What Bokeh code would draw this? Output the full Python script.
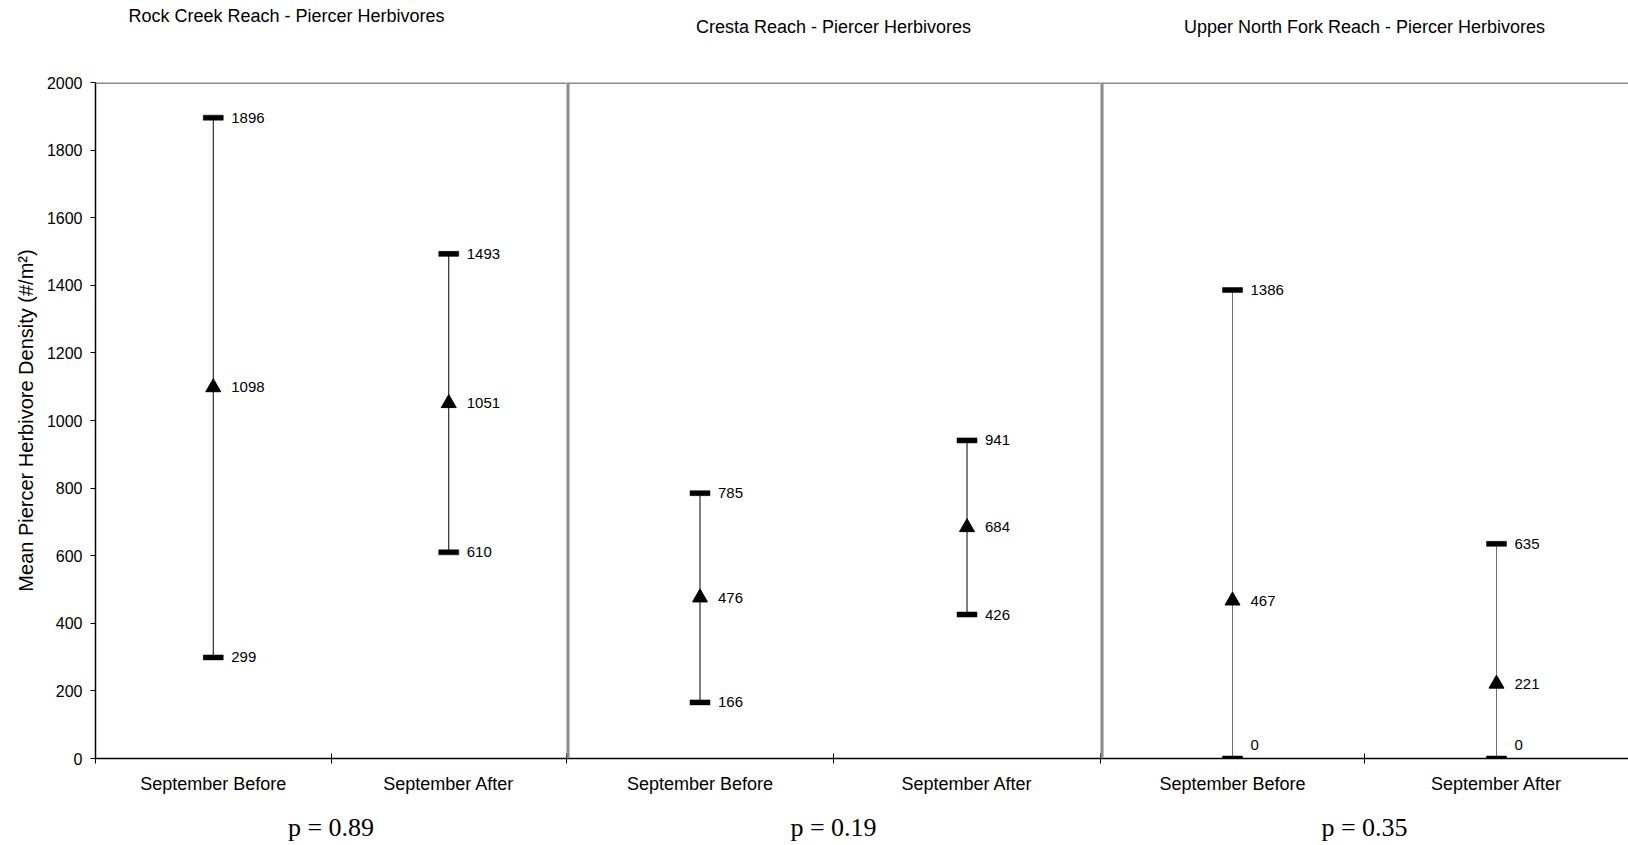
from bokeh.plotting import figure
from bokeh.layouts import row
from bokeh.models import Range1d, FixedTicker, Span, ColumnDataSource, Title
from bokeh.core.properties import value
from bokeh.embed import file_html
from bokeh.resources import INLINE

# ---------------- data ----------------
categories = ["September Before", "September After"]
reach_titles = [
    "Rock Creek Reach - Piercer Herbivores",
    "Cresta Reach - Piercer Herbivores",
    "Upper North Fork Reach - Piercer Herbivores",
]
p_values = ["p = 0.89", "p = 0.19", "p = 0.35"]

rock_upper = [1896, 1493]
rock_mean = [1098, 1051]
rock_lower = [299, 610]

cresta_upper = [785, 941]
cresta_mean = [476, 684]
cresta_lower = [166, 426]

unf_upper = [1386, 635]
unf_mean = [467, 221]
unf_lower = [0, 0]

y_ticks = [0, 200, 400, 600, 800, 1000, 1200, 1400, 1600, 1800, 2000]
y_label = "Mean Piercer Herbivore Density (#/m\u00b2)"

# ---------------- style ----------------
SANS = "Liberation Sans"
SERIF = "Liberation Serif"
FIG_H = 845
widths = [566, 534, 528]
left_borders = [95, 0, 0]
title_gap = [54, 43, 43]
bar_colors = ["black", "black", "#707070"]
DIVIDER = "#8a8a8a"


def make_panel(i, upper, mean, lower):
    show_y = i == 0
    n = len(categories)
    p = figure(
        width=widths[i], height=FIG_H,
        x_range=Range1d(0, n), y_range=Range1d(0, 2000),
        output_backend="svg", toolbar_location=None,
        y_axis_location="left" if show_y else None,
        min_border_left=left_borders[i], min_border_right=0,
        min_border_top=82, min_border_bottom=87,
    )
    p.outline_line_color = None
    p.xgrid.visible = False
    p.ygrid.visible = False
    p.background_fill_color = "white"
    p.border_fill_color = "white"
    p.title.text = ""

    # spacer between frame and title, then the title itself
    p.add_layout(Title(text=" ", text_font_size="1px", standoff=title_gap[i]), "above")
    t = Title(text=reach_titles[i], text_font=SANS, text_font_size="18px",
              text_font_style="normal", text_color="black", standoff=0)
    if i == 0:
        t.align = "left"
        t.offset = 33
    else:
        t.align = "center"
    p.add_layout(t, "above")

    # x axis
    pos = [k + 0.5 for k in range(n)]
    xa = p.xaxis[0]
    xa.ticker = FixedTicker(ticks=pos, minor_ticks=list(range(n + 1)))
    xa.major_label_overrides = {pk: c for pk, c in zip(pos, categories)}
    xa.major_tick_in = 0
    xa.major_tick_out = 0
    xa.minor_tick_in = 5
    xa.minor_tick_out = 5
    xa.minor_tick_line_color = "black"
    xa.axis_line_color = "black"
    xa.axis_line_width = 1.5
    xa.major_label_text_font = SANS
    xa.major_label_text_font_size = "18px"
    xa.major_label_text_color = "black"
    xa.major_label_standoff = 10
    xa.axis_label = p_values[i]
    xa.axis_label_text_font = SERIF
    xa.axis_label_text_font_size = "26px"
    xa.axis_label_text_font_style = "normal"
    xa.axis_label_text_color = "black"
    xa.axis_label_standoff = 16

    if show_y:
        ya = p.yaxis[0]
        ya.ticker = FixedTicker(ticks=y_ticks)
        ya.minor_tick_line_color = None
        ya.major_tick_in = 0
        ya.major_tick_out = 5
        ya.major_tick_line_color = "black"
        ya.axis_line_color = "black"
        ya.axis_line_width = 1.5
        ya.major_label_text_font = SANS
        ya.major_label_text_font_size = "16px"
        ya.major_label_text_color = "black"
        ya.major_label_standoff = 8
        ya.axis_label = y_label
        ya.axis_label_text_font = SANS
        ya.axis_label_text_font_size = "20px"
        ya.axis_label_text_font_style = "normal"
        ya.axis_label_text_color = "black"
        ya.axis_label_standoff = 7
    else:
        # gray divider between reaches (left edge of the panel)
        p.add_layout(Span(location=0, dimension="height", line_color=DIVIDER, line_width=6))

    # top border line
    p.add_layout(Span(location=2000, dimension="width", line_color=DIVIDER, line_width=3))

    src = ColumnDataSource(dict(x=pos, upper=upper, mean=mean, lower=lower))
    p.segment(x0="x", y0="lower", x1="x", y1="upper", source=src,
              line_color=bar_colors[i], line_width=1)
    for col in ("upper", "lower"):
        p.rect(x="x", y=col, width=20, height=5, width_units="screen", height_units="screen",
               source=src, fill_color="black", line_color="black", line_width=0.5)
    p.scatter(x="x", y="mean", source=src, marker="triangle", size=15,
              fill_color="black", line_color="black")

    # value labels
    lx, ly, lt, lo = [], [], [], []
    for vals in (upper, mean, lower):
        for xv, yv in zip(pos, vals):
            lx.append(xv)
            ly.append(yv)
            lt.append(str(yv))
            lo.append(-14 if yv == 0 else 0)
    lsrc = ColumnDataSource(dict(x=lx, y=ly, text=lt, yoff=lo))
    p.text(x="x", y="y", text="text", source=lsrc, x_offset=18, y_offset="yoff",
           text_align="left", text_baseline="middle",
           text_font=value(SANS), text_font_size="15px", text_color="black")
    return p


f1 = make_panel(0, rock_upper, rock_mean, rock_lower)
f2 = make_panel(1, cresta_upper, cresta_mean, cresta_lower)
f3 = make_panel(2, unf_upper, unf_mean, unf_lower)

layout = row(f1, f2, f3, spacing=0)

with open("out.html", "w") as fh:
    fh.write(file_html(layout, INLINE))
